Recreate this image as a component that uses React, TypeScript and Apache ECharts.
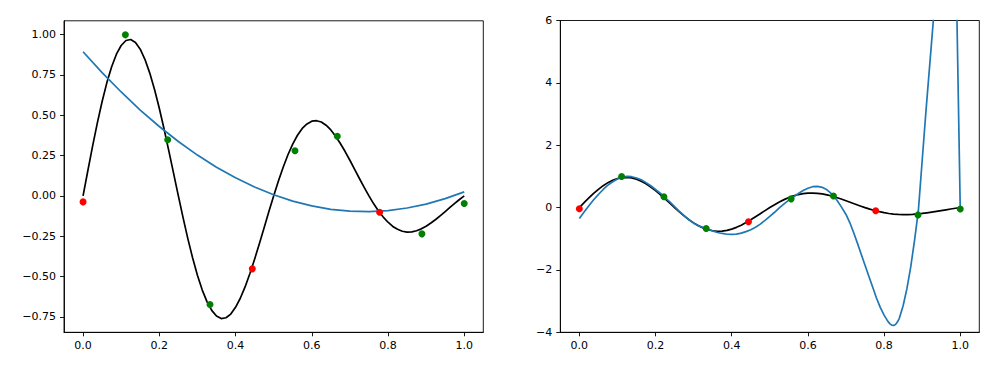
import React, { useEffect, useRef } from "react";
import * as echarts from "echarts";

// sample points (x = 0 .. 1 in ninths)
const trainX = [0.111, 0.222, 0.333, 0.556, 0.667, 0.889, 1.0];
const trainY = [0.998, 0.348, -0.673, 0.28, 0.37, -0.235, -0.047];
const testX = [0.0, 0.444, 0.778];
const testY = [-0.037, -0.452, -0.101];

// black "true" curve
const trueX = [
  0, 0.0125, 0.025, 0.0375, 0.05, 0.0625, 0.075, 0.0875, 0.1, 0.1125, 0.125, 0.1375, 0.15, 0.1625,
  0.175, 0.1875, 0.2, 0.2125, 0.225, 0.2375, 0.25, 0.2625, 0.275, 0.2875, 0.3, 0.3125, 0.325, 0.3375,
  0.35, 0.3625, 0.375, 0.3875, 0.4, 0.4125, 0.425, 0.4375, 0.45, 0.4625, 0.475, 0.4875, 0.5, 0.5125,
  0.525, 0.5375, 0.55, 0.5625, 0.575, 0.5875, 0.6, 0.6125, 0.625, 0.6375, 0.65, 0.6625, 0.675, 0.6875,
  0.7, 0.7125, 0.725, 0.7375, 0.75, 0.7625, 0.775, 0.7875, 0.8, 0.8125, 0.825, 0.8375, 0.85, 0.8625,
  0.875, 0.8875, 0.9, 0.9125, 0.925, 0.9375, 0.95, 0.9625, 0.975, 0.9875, 1.0,
];
const trueY = [
  0.0, 0.156, 0.309, 0.453, 0.585, 0.702, 0.8, 0.878, 0.932, 0.963, 0.969, 0.951, 0.909, 0.845,
  0.761, 0.659, 0.543, 0.415, 0.279, 0.14, 0.0, -0.136, -0.266, -0.385, -0.491, -0.582, -0.655, -0.709,
  -0.744, -0.76, -0.755, -0.732, -0.69, -0.634, -0.564, -0.482, -0.392, -0.296, -0.197, -0.097, 0.0, 0.092,
  0.178, 0.255, 0.321, 0.376, 0.418, 0.446, 0.463, 0.466, 0.458, 0.438, 0.409, 0.37, 0.325, 0.275,
  0.221, 0.164, 0.108, 0.053, 0.0, -0.049, -0.093, -0.131, -0.163, -0.189, -0.207, -0.219, -0.224, -0.223,
  -0.216, -0.204, -0.188, -0.168, -0.146, -0.122, -0.097, -0.071, -0.046, -0.022, 0.0,
];

// left panel: low-degree fit (blue)
const lowFitX = [0, 0.05, 0.1, 0.15, 0.2, 0.25, 0.3, 0.35, 0.4, 0.45, 0.5, 0.55, 0.6, 0.65, 0.7, 0.75, 0.8, 0.85, 0.9, 0.95, 1.0];
const lowFitY = [0.893, 0.764, 0.644, 0.532, 0.43, 0.337, 0.253, 0.178, 0.112, 0.055, 0.007, -0.032, -0.062, -0.083, -0.094, -0.097, -0.091, -0.075, -0.051, -0.017, 0.025];

// right panel: high-degree fit (blue)
const highFitX = [
  0, 0.0125, 0.025, 0.0375, 0.05, 0.0625, 0.075, 0.0875, 0.1, 0.1125, 0.125, 0.1375, 0.15, 0.1625,
  0.175, 0.1875, 0.2, 0.2125, 0.225, 0.2375, 0.25, 0.2625, 0.275, 0.2875, 0.3, 0.3125, 0.325, 0.3375,
  0.35, 0.3625, 0.375, 0.3875, 0.4, 0.4125, 0.425, 0.4375, 0.45, 0.4625, 0.475, 0.4875, 0.5, 0.5125,
  0.525, 0.5375, 0.55, 0.5625, 0.575, 0.5875, 0.6, 0.6125, 0.625, 0.6375, 0.65, 0.6625, 0.675, 0.6875,
  0.7, 0.71, 0.72, 0.73, 0.74, 0.75, 0.76, 0.77, 0.78, 0.79, 0.8, 0.81, 0.815, 0.82, 0.825, 0.83,
  0.835, 0.84, 0.85, 0.86, 0.87, 0.88, 0.89, 0.9, 0.91, 0.92, 0.93, 0.94, 0.95, 0.96, 0.97, 0.98,
  0.99, 1.0,
];
const highFitY = [
  -0.35, -0.14, 0.06, 0.25, 0.42, 0.58, 0.72, 0.83, 0.92, 0.97, 1.0, 0.99, 0.95, 0.89,
  0.8, 0.7, 0.58, 0.46, 0.32, 0.18, 0.03, -0.12, -0.26, -0.39, -0.5, -0.58, -0.64, -0.7,
  -0.75, -0.8, -0.83, -0.855, -0.86, -0.85, -0.82, -0.77, -0.71, -0.63, -0.53, -0.41, -0.28, -0.15,
  -0.01, 0.12, 0.24, 0.35, 0.45, 0.55, 0.62, 0.67, 0.68, 0.65, 0.57, 0.44, 0.26, 0.03,
  -0.22, -0.48, -0.8, -1.14, -1.5, -1.85, -2.2, -2.55, -2.9, -3.2, -3.45, -3.65, -3.72, -3.77, -3.78, -3.75,
  -3.67, -3.55, -3.15, -2.6, -1.9, -1.05, -0.1, 1.5, 3.1, 4.6, 6.1, 7.5, 8.7, 9.5, 9.8, 9.3,
  7.0, -0.05,
];

const xTicks = [0, 0.2, 0.4, 0.6, 0.8, 1.0];
const leftYTicks = [-0.75, -0.5, -0.25, 0, 0.25, 0.5, 0.75, 1.0];
const rightYTicks = [-4, -2, 0, 2, 4, 6];

const MINUS = "\u2212";
const fmt = (d: number) => (v: number) =>
  (v < -1e-9 ? MINUS : "") + Math.abs(v).toFixed(d);

const zip = (xs: number[], ys: number[]) => xs.map((x, i) => [x, ys[i]]);

const FONT = "DejaVu Sans";
const BLUE = "#1f77b4";

export default function App() {
  const ref = useRef<HTMLDivElement>(null);
  useEffect(() => {
    if (!ref.current) return;
    const chart = echarts.init(ref.current, null, { renderer: "svg" });
    const axisCommon = {
      type: "value" as const,
      splitLine: { show: false },
      axisLine: { show: true, onZero: false, lineStyle: { color: "#000", width: 0.9 } },
      axisTick: { show: true, length: 4, lineStyle: { color: "#000", width: 0.9 } },
    };
    const xAxis = (gridIndex: number) => ({
      ...axisCommon,
      gridIndex,
      min: -0.05,
      max: 1.05,
      axisTick: { ...axisCommon.axisTick, customValues: xTicks },
      axisLabel: {
        customValues: xTicks,
        formatter: fmt(1),
        color: "#000",
        fontFamily: FONT,
        fontSize: 11,
        margin: 8,
      },
    });
    const lineS = (xi: number, data: number[][], color: string, z: number) => ({
      type: "line",
      xAxisIndex: xi,
      yAxisIndex: xi,
      data,
      showSymbol: false,
      smooth: false,
      clip: true,
      z,
      lineStyle: { color, width: 1.7, join: "round" },
      silent: true,
    });
    const dotS = (xi: number, data: number[][], color: string) => ({
      type: "scatter",
      xAxisIndex: xi,
      yAxisIndex: xi,
      data,
      symbolSize: 7,
      z: 5,
      itemStyle: { color, opacity: 1 },
      silent: true,
    });
    chart.setOption({
      animation: false,
      grid: [
        { left: 64, top: 20.8, width: 419.3, height: 311.5, show: true, borderColor: "#000", borderWidth: 0.9, backgroundColor: "transparent" },
        { left: 560.3, top: 20.5, width: 419, height: 311.8, show: true, borderColor: "#000", borderWidth: 0.9, backgroundColor: "transparent" },
      ],
      xAxis: [xAxis(0), xAxis(1)],
      yAxis: [
        {
          ...axisCommon,
          gridIndex: 0,
          min: -0.845,
          max: 1.085,
          axisTick: { ...axisCommon.axisTick, customValues: leftYTicks },
          axisLabel: {
            customValues: leftYTicks,
            formatter: fmt(2),
            color: "#000",
            fontFamily: FONT,
            fontSize: 11,
            margin: 8,
          },
        },
        {
          ...axisCommon,
          gridIndex: 1,
          min: -4,
          max: 6,
          axisTick: { ...axisCommon.axisTick, customValues: rightYTicks },
          axisLabel: {
            customValues: rightYTicks,
            formatter: fmt(0),
            color: "#000",
            fontFamily: FONT,
            fontSize: 11,
            margin: 8,
          },
        },
      ],
      series: [
        lineS(0, zip(trueX, trueY), "#000", 2),
        lineS(0, zip(lowFitX, lowFitY), BLUE, 3),
        dotS(0, zip(trainX, trainY), "#008000"),
        dotS(0, zip(testX, testY), "#ff0000"),
        lineS(1, zip(trueX, trueY), "#000", 2),
        lineS(1, zip(highFitX, highFitY), BLUE, 3),
        dotS(1, zip(trainX, trainY), "#008000"),
        dotS(1, zip(testX, testY), "#ff0000"),
      ],
    });
    return () => chart.dispose();
  }, []);
  return (
    <div
      ref={ref}
      style={{ position: "fixed", left: 0, top: 0, width: 1000, height: 366, background: "#fff" }}
    />
  );
}
